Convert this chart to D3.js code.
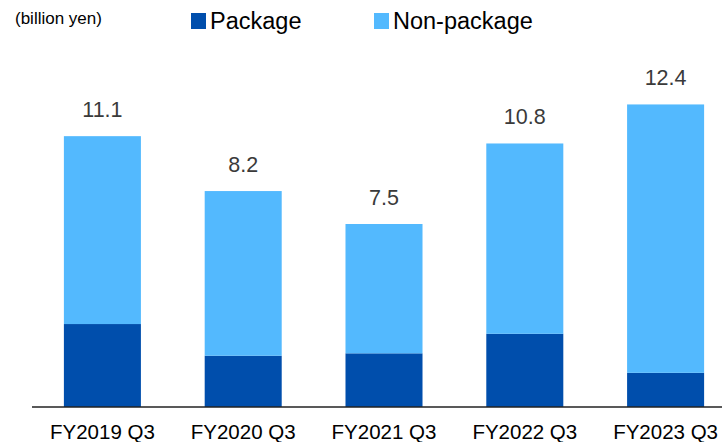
<!DOCTYPE html>
<html>
<head>
<meta charset="utf-8">
<script src="https://cdn.jsdelivr.net/npm/d3@7"></script>
<style>
  html, body { margin: 0; padding: 0; background: #fff; }
  svg { display: block; font-family: "Liberation Sans", Arial, sans-serif; }
</style>
</head>
<body>
<svg id="chart" width="722" height="442"></svg>
<script>
const categories = ["FY2019 Q3", "FY2020 Q3", "FY2021 Q3", "FY2022 Q3", "FY2023 Q3"];
const packageValues = [3.4, 2.1, 2.2, 3.0, 1.4];
const nonPackageValues = [7.7, 6.75, 5.3, 7.8, 11.0];
const totalLabels = ["11.1", "8.2", "7.5", "10.8", "12.4"];
const seriesNames = ["Package", "Non-package"];
const unitLabel = "(billion yen)";

const colors = { "Package": "#004EAC", "Non-package": "#53B9FE" };

const svg = d3.select("#chart");
const baseY = 407;

const x = d3.scaleBand().domain(categories).range([32, 736]).paddingInner(0.453).paddingOuter(0.2265);
const y = d3.scaleLinear().domain([0, 14]).range([baseY, baseY - 14 * 24.4]);

const rows = categories.map((c, i) => ({ cat: c, "Package": packageValues[i], "Non-package": nonPackageValues[i], label: totalLabels[i] }));
const stacked = d3.stack().keys(seriesNames)(rows);

svg.append("g").selectAll("g").data(stacked).join("g")
  .attr("fill", d => colors[d.key])
  .selectAll("rect").data(d => d).join("rect")
  .attr("x", d => x(d.data.cat))
  .attr("width", x.bandwidth())
  .attr("y", d => y(d[1]))
  .attr("height", d => y(d[0]) - y(d[1]));

// total labels
svg.append("g").selectAll("text").data(stacked[stacked.length - 1]).join("text")
  .attr("x", d => x(d.data.cat) + x.bandwidth() / 2)
  .attr("y", d => y(d[1]) - 19)
  .attr("text-anchor", "middle")
  .attr("font-size", 21.5)
  .attr("fill", "#3a3a3a")
  .text(d => d.data.label);

// x axis
const xAxis = svg.append("g").attr("transform", `translate(0,${baseY})`)
  .call(d3.axisBottom(x).tickSize(0).tickPadding(0));
xAxis.select(".domain").remove();
xAxis.append("line").attr("x1", 32).attr("x2", 722).attr("y1", 0).attr("y2", 0)
  .attr("stroke", "#222").attr("stroke-width", 1.3);
xAxis.selectAll(".tick text")
  .attr("dy", null).attr("y", 31.5)
  .attr("font-size", 20.5)
  .attr("font-family", "Liberation Sans, Arial, sans-serif")
  .attr("fill", "#000");

// unit label
svg.append("text").attr("x", 15).attr("y", 24).attr("font-size", 17).attr("fill", "#000").text(unitLabel);

// legend
const legendX = [191, 374];
const leg = svg.append("g").selectAll("g").data(seriesNames).join("g")
  .attr("transform", (d, i) => `translate(${legendX[i]},13)`);
leg.append("rect").attr("width", 15).attr("height", 16).attr("fill", d => colors[d]);
leg.append("text").attr("x", 19).attr("y", 16).attr("font-size", 23.5).attr("fill", "#000").text(d => d);
</script>
</body>
</html>
